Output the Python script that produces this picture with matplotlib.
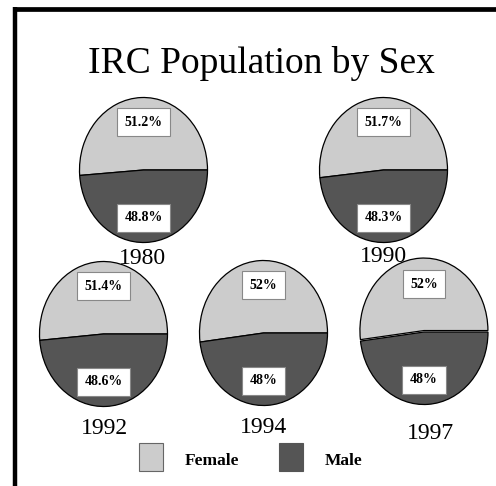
import matplotlib.pyplot as plt
from matplotlib.patches import Rectangle
from matplotlib.lines import Line2D

# data
years = ["1980", "1990", "1992", "1994", "1997"]
female = [51.2, 51.7, 51.4, 52, 52]
male = [48.8, 48.3, 48.6, 48, 48]
labels = ["Female", "Male"]
colors = ["#cccccc", "#555555"]

W, H = 496, 486
# pie centres (pixels), year label positions
centres = [(143.5, 170), (383.5, 170), (103.5, 334), (263.5, 333), (424, 332)]
year_pos = [(142, 258), (383, 256), (104, 428), (264, 427), (430, 433)]
pw, ph = 128, 145

plt.rcParams['font.family'] = ['Liberation Serif', 'DejaVu Serif']

fig = plt.figure(figsize=(W / 100, H / 100), dpi=100)
fig.patch.set_facecolor("white")

# frame (top and left)
fig.add_artist(Line2D([13 / W, 1], [1 - 9.5 / H] * 2, color="black", lw=3.4,
                      transform=fig.transFigure, solid_capstyle="butt"))
fig.add_artist(Line2D([15 / W] * 2, [1 - 7.5 / H, 0], color="black", lw=3.2,
                      transform=fig.transFigure, solid_capstyle="butt"))

fig.text(261 / W, 1 - 73 / H, "IRC Population by Sex", ha="center", va="baseline",
         fontsize=27)

for i, yr in enumerate(years):
    cx, cy = centres[i]
    ax = fig.add_axes([(cx - pw / 2) / W, 1 - (cy + ph / 2) / H, pw / W, ph / H])
    explode = [0.02, 0] if yr == "1997" else [0, 0]
    wedges, _ = ax.pie([female[i], male[i]], colors=colors, startangle=0,
                       counterclock=True, radius=1, explode=explode,
                       wedgeprops=dict(edgecolor="black", linewidth=0.9))
    for w in wedges:
        w.set_clip_on(False)
    ax.set_aspect("auto")
    ax.set_xlim(-1, 1)
    ax.set_ylim(-1, 1)
    ax.axis("off")
    box = dict(boxstyle="square,pad=0.55", fc="white", ec="#888888", lw=0.8)
    ax.text(0, 0.66, "{:g}%".format(female[i]), ha="center", va="center",
            fontsize=10, fontweight="bold", bbox=box)
    ax.text(0, -0.66, "{:g}%".format(male[i]), ha="center", va="center",
            fontsize=10, fontweight="bold", bbox=box)
    fig.text(year_pos[i][0] / W, 1 - year_pos[i][1] / H, yr, ha="center",
             va="center", fontsize=17)

# legend
leg_x = [139, 279]
for j, lab in enumerate(labels):
    fig.add_artist(Rectangle((leg_x[j] / W, 1 - 471 / H), 24 / W, 28 / H,
                             transform=fig.transFigure, fc=colors[j],
                             ec="#666666" if j == 0 else colors[j], lw=0.8))
    fig.text((leg_x[j] + 46) / W, 1 - 461 / H, lab, ha="left", va="center",
             fontsize=12.5, fontweight="bold")

fig.savefig("out.png", dpi=100)
